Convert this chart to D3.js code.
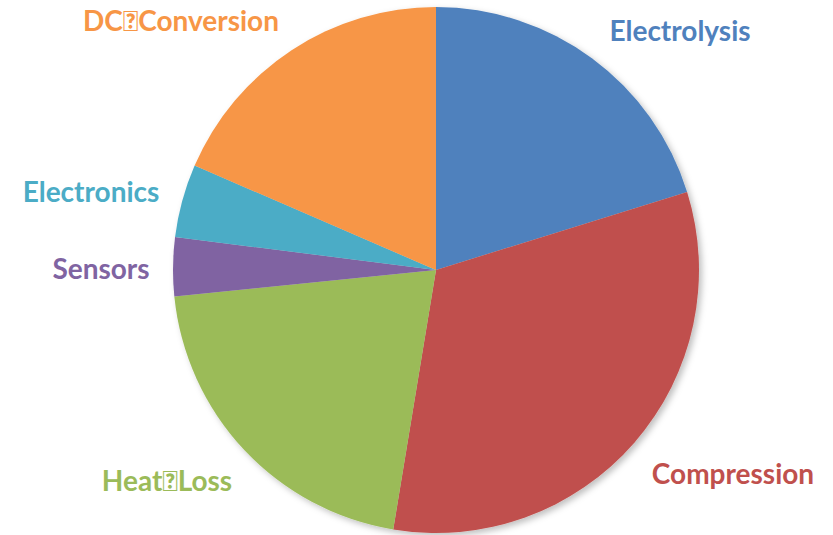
<!DOCTYPE html>
<html>
<head>
<meta charset="utf-8">
<script src="https://cdn.jsdelivr.net/npm/d3@7/dist/d3.min.js"></script>
<style>
  html, body { margin: 0; padding: 0; background: #fff; }
  svg { display: block; }
  .lbl { font-family: Lato, "Open Sans", sans-serif; font-weight: bold; font-size: 28px; }
</style>
</head>
<body>
<svg id="chart" width="833" height="535"></svg>
<script>
// Share of energy losses by stage (percent)
const categories = ["Electrolysis", "Compression", "Heat\uF020Loss", "Sensors", "Electronics", "DC\uF020Conversion"];
const values = [20.2, 32.4, 20.8, 3.6, 4.5, 18.5];
const colors = ["#4F81BD", "#C0504D", "#9BBB59", "#8064A2", "#4BACC6", "#F79646"];

// Label anchor points (layout only)
const labelAnchors = [
  [680, 30], [733, 473], [167, 480], [101, 268], [91, 191], [181, 20]
];

const svg = d3.select("#chart");
const cx = 436, cy = 270, radius = 263;

const defs = svg.append("defs");
const f = defs.append("filter").attr("id", "shadow")
  .attr("x", "-10%").attr("y", "-10%").attr("width", "120%").attr("height", "120%");
f.append("feDropShadow").attr("dx", 3).attr("dy", 3).attr("stdDeviation", 3)
  .attr("flood-color", "#000").attr("flood-opacity", 0.25);

const data = categories.map((c, i) => ({ name: c, value: values[i], color: colors[i] }));
const pie = d3.pie().value(d => d.value).sort(null);
const arc = d3.arc().innerRadius(0).outerRadius(radius);

const g = svg.append("g").attr("transform", `translate(${cx},${cy})`).attr("filter", "url(#shadow)");
g.selectAll("path").data(pie(data)).join("path")
  .attr("d", arc).attr("fill", d => d.data.color);

svg.selectAll("text.lbl").data(data).join("text")
  .attr("class", "lbl")
  .attr("x", (d, i) => labelAnchors[i][0])
  .attr("y", (d, i) => labelAnchors[i][1])
  .attr("text-anchor", "middle")
  .attr("dominant-baseline", "central")
  .attr("fill", d => d.color)
  .text(d => d.name);
</script>
</body>
</html>
